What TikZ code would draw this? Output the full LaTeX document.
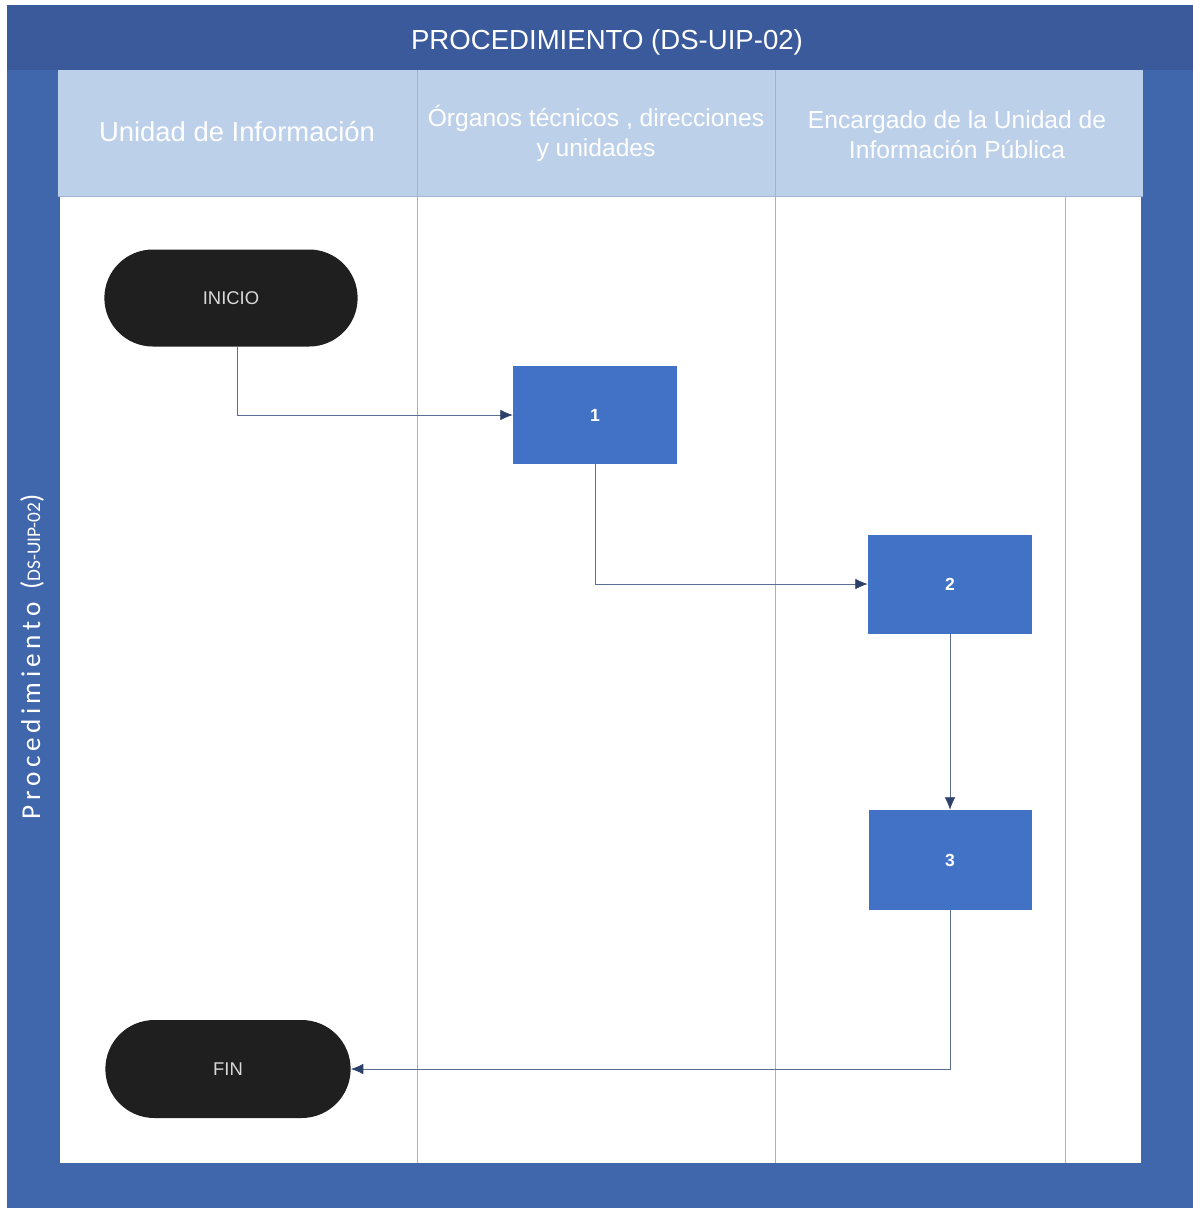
\documentclass[tikz,border=0pt]{standalone}
\usepackage{fontspec}
\setmainfont{Liberation Sans}
\newfontfamily\calfont{Carlito}
\usepackage{tikz}
\usetikzlibrary{arrows.meta, shapes}

\definecolor{barblue}{HTML}{4066AC}
\definecolor{titleblue}{HTML}{3A5A9C}
\definecolor{headblue}{HTML}{BDD0E9}
\definecolor{taskblue}{HTML}{4272C6}
\definecolor{laneline}{HTML}{9FB4D3}
\definecolor{flowline}{HTML}{5A6E94}
\definecolor{tipblue}{HTML}{2C406A}

\begin{document}
\begin{tikzpicture}[x=0.02cm,y=-0.02cm]
\useasboundingbox (0,0) rectangle (1193,1208);
% frame and lanes
\fill[barblue] (7,5) rectangle (1193,1208);
\fill[titleblue] (7,5) rectangle (1193,70);
\fill[headblue] (58,70) rectangle (1143,196);
\fill[white] (60,196) rectangle (1141,1163);
\draw[laneline] (417,70) -- (417,1163);
\draw[laneline] (775,70) -- (775,1163);
\draw[laneline] (1065,196) -- (1065,1163);
\draw[laneline] (58,196) -- (1143,196);

\node[text=white, font=\fontsize{15.7}{18}\selectfont] (title) at (607,42) {PROCEDIMIENTO (DS-UIP-02)};
\node[text=white, rotate=90, font=\calfont\fontsize{15.5}{18}\selectfont] (side) at (32,657)
    {P\,r\,o\,c\,e\,d\,i\,m\,i\,e\,n\,t\,o\ \ ({\fontsize{11}{13}\selectfont DS-UIP-02})};

\begin{scope}[every node/.style={text=white, align=center, font=\fontsize{14}{17}\selectfont}]
    \node[font=\fontsize{15.6}{18}\selectfont] (h1) at (237,132) {Unidad de Información};
    \node (h2) at (596,133) {Órganos técnicos , direcciones\\y unidades};
    \node (h3) at (957,135) {Encargado de la Unidad de\\Información Pública};
\end{scope}

% flow
\begin{scope}[every node/.style={text=white, font=\fontsize{10.5}{12}\selectfont}]
    \node[rounded rectangle, fill=black!88, minimum width=265*0.02cm, minimum height=97*0.02cm, text=white!85!black] (ini) at (231,298) {INICIO};
    \node[fill=taskblue, minimum width=164*0.02cm, minimum height=98*0.02cm, font=\bfseries\fontsize{10}{12}\selectfont] (t1) at (595,415) {1};
    \node[fill=taskblue, minimum width=164*0.02cm, minimum height=99*0.02cm, font=\bfseries\fontsize{10}{12}\selectfont] (t2) at (950,584) {2};
    \node[fill=taskblue, minimum width=163*0.02cm, minimum height=100*0.02cm, font=\bfseries\fontsize{10}{12}\selectfont] (t3) at (950,860) {3};
    \node[rounded rectangle, fill=black!88, minimum width=257*0.02cm, minimum height=98*0.02cm, text=white!85!black] (fin) at (228,1069) {FIN};
\end{scope}

\tikzset{flow/.style={flowline, thin, -{Latex[length=7pt,width=6pt,color=tipblue]}}}
\draw [flow] ([xshift=6*0.02cm]ini.south) |- (t1.west);
\draw [flow] (t1.south) |- (t2.west);
\draw [flow] (t2.south) -- (t3.north);
\draw [flow] (t3.south) |- (fin.east);
\end{tikzpicture}
\end{document}
